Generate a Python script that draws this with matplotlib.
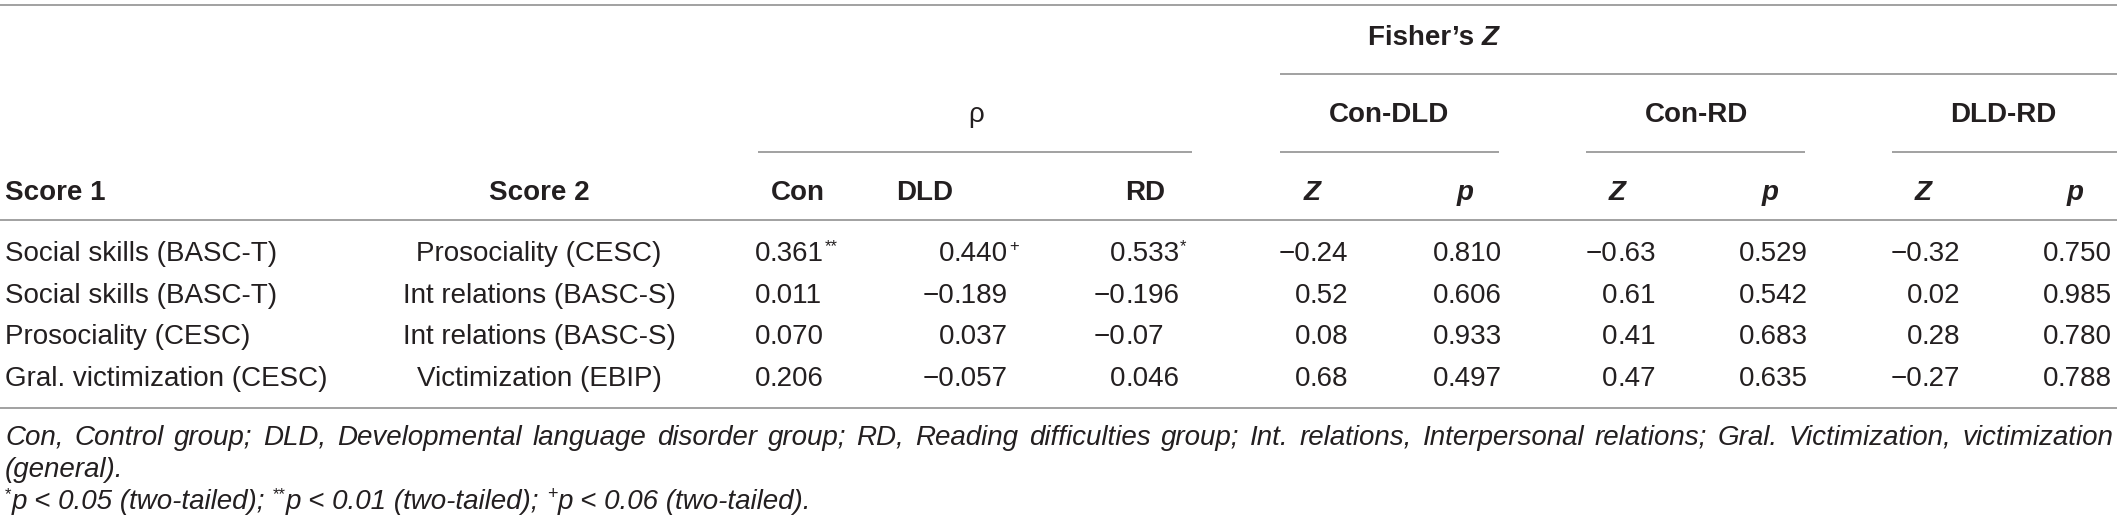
import matplotlib
matplotlib.use("Agg")
import matplotlib.pyplot as plt

# table content
score1 = ["Social skills (BASC-T)", "Social skills (BASC-T)",
          "Prosociality (CESC)", "Gral. victimization (CESC)"]
score2 = ["Prosociality (CESC)", "Int relations (BASC-S)",
          "Int relations (BASC-S)", "Victimization (EBIP)"]

rho_con = ["0.361", "0.011", "0.070", "0.206"]
rho_con_sig = ["**", "", "", ""]
rho_dld = ["0.440", "\u22120.189", "0.037", "\u22120.057"]
rho_dld_sig = ["+", "", "", ""]
rho_rd = ["0.533", "\u22120.196", "\u22120.07", "0.046"]
rho_rd_sig = ["*", "", "", ""]

z_con_dld = ["\u22120.24", "0.52", "0.08", "0.68"]
p_con_dld = ["0.810", "0.606", "0.933", "0.497"]
z_con_rd = ["\u22120.63", "0.61", "0.41", "0.47"]
p_con_rd = ["0.529", "0.542", "0.683", "0.635"]
z_dld_rd = ["\u22120.32", "0.02", "0.28", "\u22120.27"]
p_dld_rd = ["0.750", "0.985", "0.780", "0.788"]

pairs = ["Con-DLD", "Con-RD", "DLD-RD"]
groups = ["Con", "DLD", "RD"]

note1 = ("Con, Control group; DLD, Developmental language disorder group; "
         "RD, Reading difficulties group; Int. relations, Interpersonal relations; "
         "Gral. Victimization, victimization")
note1b = "(general)."

FONT = "Liberation Sans"
FS = 20
INK = "#231f20"
RULE = "#9a9a9a"

fig = plt.figure(figsize=(21.17, 5.29), dpi=100)
ax = fig.add_axes([0, 0, 1, 1])
ax.set_xlim(0, 2117)
ax.set_ylim(529, 0)
ax.axis("off")
fig.canvas.draw()
renderer = fig.canvas.get_renderer()


def txt(x, y, s, size=FS, weight="normal", style="normal", ha="left"):
    return ax.text(x, y, s, fontsize=size, fontweight=weight, fontstyle=style,
                   family=FONT, color=INK, ha=ha, va="baseline")


def width(t):
    bb = t.get_window_extent(renderer=renderer)
    return bb.width


def rule(x0, x1, y):
    ax.plot([x0, x1], [y, y], color=RULE, lw=1.3, solid_capstyle="butt")


def num(xdec, y, s, sup=""):
    head, tail = s.split(".")
    txt(xdec, y, head, ha="right")
    t = txt(xdec, y, "." + tail)
    if sup:
        txt(xdec + width(t) + 1, y - 10, sup, size=12)


def runs(x, y, parts):
    # parts: (text, size, style, raise)
    for s, size, style, up in parts:
        t = txt(x, y - up, s, size=size, style=style)
        x += width(t)


# horizontal rules
rule(0, 2117, 5)
rule(1280, 2117, 74)
rule(758, 1192, 152)
rule(1280, 1499, 152)
rule(1586, 1805, 152)
rule(1892, 2117, 152)
rule(0, 2117, 220)
rule(0, 2117, 408)

# header block
t = txt(1368, 45, "Fisher\u2019s ", weight="bold")
txt(1368 + width(t), 45, "Z", weight="bold", style="italic")
txt(976, 122, "\u03c1", ha="center")
for cx, lab in zip([1389, 1696, 2003], pairs):
    txt(cx, 122, lab, weight="bold", ha="center")

txt(5, 200, "Score 1", weight="bold")
txt(539, 200, "Score 2", weight="bold", ha="center")
for cx, lab in zip([798, 925, 1145], groups):
    txt(cx, 200, lab, weight="bold", ha="center")
for cz, cp in [(1312, 1465), (1617, 1770), (1923, 2075)]:
    txt(cz, 200, "Z", weight="bold", style="italic", ha="center")
    txt(cp, 200, "p", weight="bold", style="italic", ha="center")

# body rows
row_y = [261, 303, 344, 386]
for i, y in enumerate(row_y):
    txt(5, y, score1[i])
    txt(539, y, score2[i], ha="center")
    num(770, y, rho_con[i], rho_con_sig[i])
    num(954, y, rho_dld[i], rho_dld_sig[i])
    num(1125, y, rho_rd[i], rho_rd_sig[i])
    num(1310, y, z_con_dld[i])
    num(1448, y, p_con_dld[i])
    num(1617, y, z_con_rd[i])
    num(1754, y, p_con_rd[i])
    num(1922, y, z_dld_rd[i])
    num(2058, y, p_dld_rd[i])

# footnote, first line justified across the table width
words = note1.split(" ")
probe = [txt(0, -100, w, style="italic") for w in words]
ws = [width(p) for p in probe]
for p in probe:
    p.remove()
gap = (2113 - 5 - sum(ws)) / (len(words) - 1)
x = 5
for w, wd in zip(words, ws):
    txt(x, 445, w, style="italic")
    x += wd + gap
txt(5, 477, note1b, style="italic")

runs(5, 509, [("*", 12, "normal", 10), ("p < 0.05 (two-tailed); ", FS, "italic", 0),
              ("**", 12, "normal", 10), ("p < 0.01 (two-tailed); ", FS, "italic", 0),
              ("+", 13, "normal", 10), ("p < 0.06 (two-tailed).", FS, "italic", 0)])

fig.savefig("out.png", dpi=100)
